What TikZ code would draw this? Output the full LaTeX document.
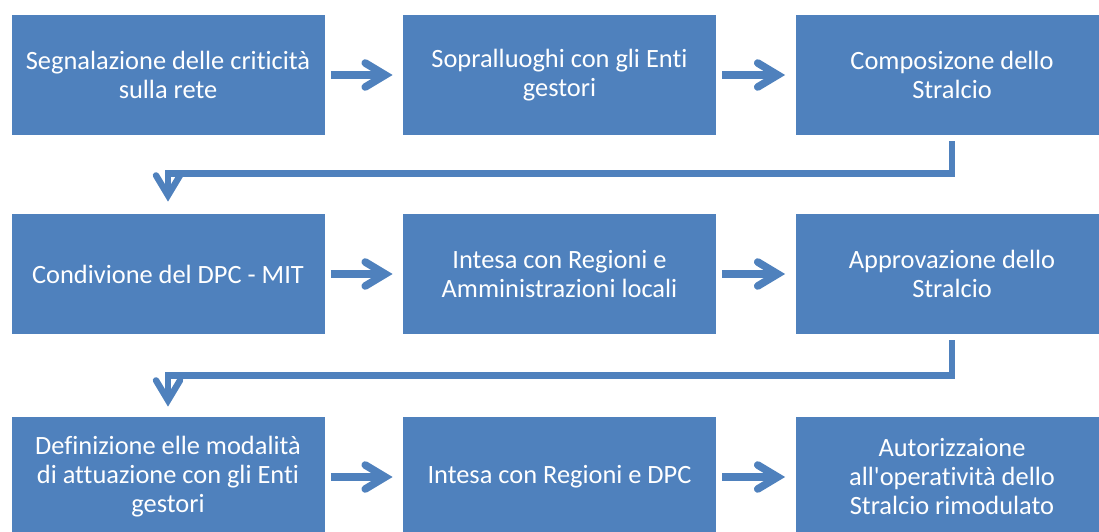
\documentclass[tikz,border=0pt]{standalone}
\usepackage{fontspec}
\setmainfont{Carlito}[Ligatures=NoCommon]
\usetikzlibrary{arrows.meta}
\definecolor{boxblue}{HTML}{4F81BD}

\begin{document}
\begin{tikzpicture}[x=0.5pt, y=-0.5pt,
    phase/.style={rectangle, fill=boxblue, text=white, inner sep=0pt,
        minimum width=156.5pt, minimum height=60pt, align=center,
        font=\fontsize{13.2}{14.5}\selectfont},
    flow/.style={draw=boxblue, line width=3.8pt, shorten <=3pt, shorten >=5pt,
        -{Straight Barb[length=10pt, width=12pt, line cap=round]}},
    elbow/.style={draw=boxblue, line width=3.2pt, line join=miter,
        -{Straight Barb[length=10pt, width=12pt, line cap=round]}}]

    \useasboundingbox (0,0) rectangle (1099,531);
    \clip (0,0) rectangle (1099,531);

    \node [phase] (p1) at (168,75) {Segnalazione delle criticità\\sulla rete};
    \node [phase] (p2) at (559.5,75) {Sopralluoghi con gli Enti\\gestori};
    \node [phase] (p3) at (952,75) {Composizone dello\\Stralcio};

    \node [phase] (p4) at (168,274) {Condivione del DPC - MIT};
    \node [phase] (p5) at (559.5,274) {Intesa con Regioni e\\Amministrazioni locali};
    \node [phase] (p6) at (952,274) {Approvazione dello\\Stralcio};

    \node [phase] (p7) at (168,477) {Definizione elle modalità\\di attuazione con gli Enti\\gestori};
    \node [phase] (p8) at (559.5,477) {Intesa con Regioni e DPC};
    \node [phase] (p9) at (952,477) {Autorizzaione\\all\textquotesingle operatività dello\\Stralcio rimodulato};

 \path[flow]
      (p1) edge (p2)
      (p2) edge (p3)
      (p4) edge (p5)
      (p5) edge (p6)
      (p7) edge (p8)
      (p8) edge (p9);

    \draw [elbow, shorten <=3pt, shorten >=6pt] (p3.south) -- ++(0,38) -| (p4.north);
    \draw [elbow, shorten <=3pt, shorten >=5pt] (p6.south) -- ++(0,41) -| (p7.north);
\end{tikzpicture}
\end{document}
